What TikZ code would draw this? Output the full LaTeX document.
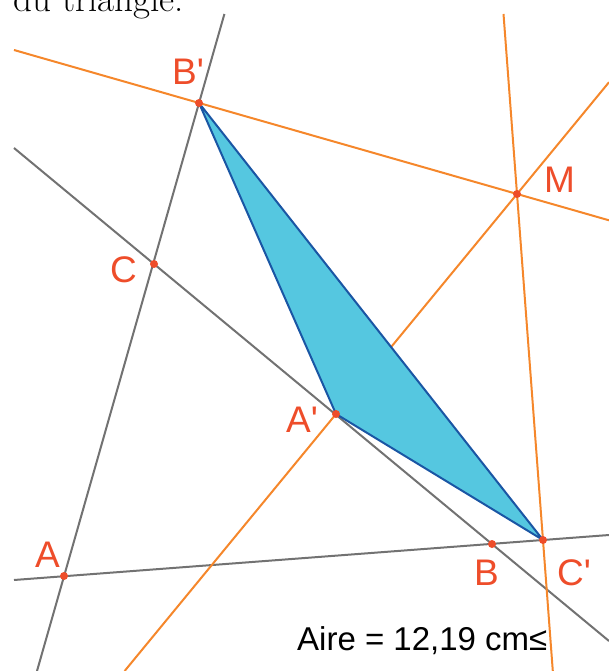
\documentclass[tikz,border=0pt]{standalone}
\usepackage{fontspec}
\newfontfamily\lblfont{Liberation Sans}[Ligatures=TeXOff]
\definecolor{lineorange}{HTML}{F5872B}
\definecolor{linegray}{HTML}{727272}
\definecolor{ptred}{HTML}{EE4D2A}
\definecolor{trifill}{HTML}{55C7E0}
\definecolor{triedge}{HTML}{1A56A4}
\begin{document}
\begin{tikzpicture}[x=1pt,y=-1pt,
 lbl/.style={text=ptred,font=\lblfont\fontsize{37}{37}\selectfont,inner sep=0pt,anchor=base west},
 gline/.style={draw=linegray,line width=2pt},
 oline/.style={draw=lineorange,line width=2pt},
 tri/.style={fill=trifill,draw=triedge,line width=2pt,line join=round}]
\useasboundingbox (0,0) rectangle (609,671);
\clip (0,0) rectangle (609,671);
\node[anchor=base west,inner sep=0pt,font=\fontsize{37}{40}\selectfont] (head) at (13,12) {du triangle.};
% points of the figure
\coordinate (A) at (64,576);
\coordinate (B) at (492,544);
\coordinate (C) at (154,264);
\coordinate (Ap) at (336,414);
\coordinate (Bp) at (199,103);
\coordinate (Cp) at (543,540);
\coordinate (M) at (517,194);
% ends of the lines
\coordinate (abL) at (14,580);
\coordinate (abR) at (609,535);
\coordinate (acT) at (224.4,14);
\coordinate (acB) at (37,671);
\coordinate (bcL) at (14,148);
\coordinate (bcR) at (609,641);
\coordinate (bmL) at (14,50);
\coordinate (bmR) at (609,220.3);
\coordinate (mcT) at (503.5,14);
\coordinate (mcB) at (552.8,671);
\coordinate (amB) at (124.6,671);
\coordinate (amR) at (609,82.2);
\draw[gline] (abL) -- (abR);
\draw[gline] (acT) -- (acB);
\draw[gline] (bcL) -- (bcR);
\draw[oline] (bmL) -- (bmR);
\draw[oline] (mcT) -- (mcB);
\draw[oline] (amB) -- (amR);
\filldraw[tri] (Ap) -- (Bp) -- (Cp) -- cycle;
\foreach \p in {A,B,C,Ap,Bp,Cp,M} \fill[ptred] (\p) circle (4);
% labels
\node[lbl] (labBp) at (172,85) {B'};
\node[lbl] (labM) at (544,193) {M};
\node[lbl] (labC) at (110,282) {C};
\node[lbl] (labAp) at (286,432) {A'};
\node[lbl] (labA) at (35,567) {A};
\node[lbl] (labB) at (474,585) {B};
\node[lbl] (labCp) at (557,585) {C'};
\node[anchor=base west,inner sep=0pt,font=\lblfont\fontsize{33}{33}\selectfont] (area) at (297,650) {Aire = 12,19 cm≤};
\end{tikzpicture}
\end{document}
